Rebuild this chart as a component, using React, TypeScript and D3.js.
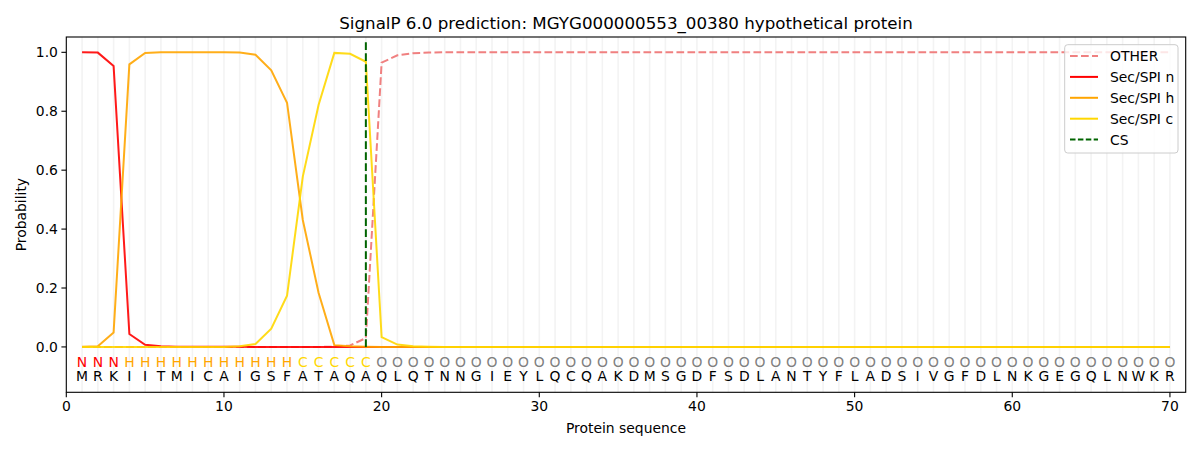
import { useEffect } from "react";
import * as d3 from "d3";

const title = "SignalP 6.0 prediction: MGYG000000553_00380 hypothetical protein";
const sequence = "MRKIITMICAIGSFATAQAQLQTNNGIEYLQCQAKDMSGDFSDLANTYFLADSIVGFDLNKGEGQLNWKR".split("");
const regionLabels = "NNNHHHHHHHHHHHCCCCCOOOOOOOOOOOOOOOOOOOOOOOOOOOOOOOOOOOOOOOOOOOOOOOOOOO".split("");

const otherProb = [
  0, 0, 0, 0, 0, 0, 0, 0, 0, 0,
  0, 0, 0, 0, 0, 0, 0.001, 0.005, 0.03, 0.965,
  0.99, 0.997, 0.999, 1, 1, 1, 1, 1, 1, 1,
  1, 1, 1, 1, 1, 1, 1, 1, 1, 1,
  1, 1, 1, 1, 1, 1, 1, 1, 1, 1,
  1, 1, 1, 1, 1, 1, 1, 1, 1, 1,
  1, 1, 1, 1, 1, 1, 1, 1, 1, 1,
];
const secN = [
  1, 0.999, 0.954, 0.044, 0.007, 0.002, 0.001, 0.001, 0.001, 0.001,
  0.001, 0, 0, 0, 0, 0, 0, 0, 0, 0,
  0, 0, 0, 0, 0, 0, 0, 0, 0, 0,
  0, 0, 0, 0, 0, 0, 0, 0, 0, 0,
  0, 0, 0, 0, 0, 0, 0, 0, 0, 0,
  0, 0, 0, 0, 0, 0, 0, 0, 0, 0,
  0, 0, 0, 0, 0, 0, 0, 0, 0, 0,
];
const secH = [
  0.001, 0.002, 0.049, 0.959, 0.998, 1, 1, 1, 1, 1,
  0.999, 0.992, 0.939, 0.829, 0.431, 0.184, 0.006, 0.002, 0.001, 0,
  0, 0, 0, 0, 0, 0, 0, 0, 0, 0,
  0, 0, 0, 0, 0, 0, 0, 0, 0, 0,
  0, 0, 0, 0, 0, 0, 0, 0, 0, 0,
  0, 0, 0, 0, 0, 0, 0, 0, 0, 0,
  0, 0, 0, 0, 0, 0, 0, 0, 0, 0,
];
const secC = [
  0, 0, 0, 0, 0, 0, 0, 0, 0, 0,
  0.002, 0.01, 0.062, 0.174, 0.578, 0.821, 0.998, 0.995, 0.968, 0.033,
  0.008, 0.002, 0.001, 0, 0, 0, 0, 0, 0, 0,
  0, 0, 0, 0, 0, 0, 0, 0, 0, 0,
  0, 0, 0, 0, 0, 0, 0, 0, 0, 0,
  0, 0, 0, 0, 0, 0, 0, 0, 0, 0,
  0, 0, 0, 0, 0, 0, 0, 0, 0, 0,
];
const cleavageSite = 19;

const xTicks = [0, 10, 20, 30, 40, 50, 60, 70];
const yTicks = [0, 0.2, 0.4, 0.6, 0.8, 1.0];

const series = [
  { name: "OTHER", values: otherProb, color: "#f08080", dash: "7.7,3.3" },
  { name: "Sec/SPI n", values: secN, color: "#ff0000", dash: "" },
  { name: "Sec/SPI h", values: secH, color: "#ffa500", dash: "" },
  { name: "Sec/SPI c", values: secC, color: "#ffd700", dash: "" },
];

const labelColor: Record<string, string> = {
  N: "#ff0000",
  H: "#ffa500",
  C: "#ffd700",
  O: "#808080",
};

const W = 1200;
const H = 450;
const left = 66.3;
const right = 1185.7;
const top = 37;
const bottom = 392.3;
const font = "DejaVu Sans, sans-serif";

export default function App() {
  useEffect(() => {
    document.body.style.margin = "0";
  }, []);

  const x = d3.scaleLinear().domain([0, 71]).range([left, right]);
  const y = d3.scaleLinear().domain([-0.154, 1.052]).range([bottom, top]);
  const positions = d3.range(1, sequence.length + 1);

  const line = (vals: number[]) =>
    d3
      .line<number>()
      .x((_, i) => x(i + 1))
      .y((d) => y(d))(vals) ?? "";

  const legendRows = [
    ...series.map((s) => ({ name: s.name, color: s.color, dash: s.dash })),
    { name: "CS", color: "#006400", dash: "5.5,2.4" },
  ];

  return (
    <svg width={W} height={H} style={{ display: "block", background: "#fff" }} fontFamily={font}>
      <rect x={0} y={0} width={W} height={H} fill="#fff" />
      {/* per-residue grid */}
      {positions.map((p) => (
        <line key={`g${p}`} x1={x(p)} x2={x(p)} y1={top} y2={bottom} stroke="#f3f3f3" strokeWidth={1.6} />
      ))}

      {series.map((s) => (
        <path
          key={s.name}
          d={line(s.values)}
          fill="none"
          stroke={s.color}
          strokeWidth={2}
          strokeOpacity={s.dash ? 1 : 0.9}
          strokeDasharray={s.dash || undefined}
        />
      ))}

      <line
        x1={x(cleavageSite)}
        x2={x(cleavageSite)}
        y1={y(0)}
        y2={y(1.036)}
        stroke="#006400"
        strokeWidth={2}
        strokeDasharray="7.7,3.3"
      />

      {/* residue labels */}
      {positions.map((p, i) => (
        <g key={`l${p}`}>
          <text x={x(p)} y={y(-0.05)} textAnchor="middle" dominantBaseline="central" fontSize={13.9} fill={labelColor[regionLabels[i]]}>
            {regionLabels[i]}
          </text>
          <text x={x(p)} y={y(-0.1)} textAnchor="middle" dominantBaseline="central" fontSize={13.9} fill="#000">
            {sequence[i]}
          </text>
        </g>
      ))}

      {/* axes frame */}
      <rect x={left} y={top} width={right - left} height={bottom - top} fill="none" stroke="#000" strokeWidth={1.1} />

      {xTicks.map((t) => (
        <g key={`xt${t}`}>
          <line x1={x(t)} x2={x(t)} y1={bottom} y2={bottom + 4.9} stroke="#000" strokeWidth={1.1} />
          <text x={x(t)} y={bottom + 19} textAnchor="middle" fontSize={13.9} fill="#000">
            {t}
          </text>
        </g>
      ))}
      {yTicks.map((t) => (
        <g key={`yt${t}`}>
          <line x1={left - 4.9} x2={left} y1={y(t)} y2={y(t)} stroke="#000" strokeWidth={1.1} />
          <text x={left - 8.4} y={y(t)} textAnchor="end" dominantBaseline="central" fontSize={13.9} fill="#000">
            {t.toFixed(1)}
          </text>
        </g>
      ))}

      <text x={(left + right) / 2} y={433} textAnchor="middle" fontSize={13.9} fill="#000">
        Protein sequence
      </text>
      <text
        transform={`translate(${26},${(top + bottom) / 2}) rotate(-90)`}
        textAnchor="middle"
        fontSize={13.9}
        fill="#000"
      >
        Probability
      </text>
      <text x={(left + right) / 2} y={29} textAnchor="middle" fontSize={16.7} fill="#000">
        {title}
      </text>

      {/* legend */}
      <rect x={1064.7} y={44.7} width={113.3} height={108.3} rx={3} fill="#fff" fillOpacity={0.8} stroke="#cccccc" strokeWidth={1} />
      {legendRows.map((r, i) => {
        const ly = 56 + i * 20.9;
        return (
          <g key={r.name}>
            <line x1={1070} x2={1098} y1={ly} y2={ly} stroke={r.color} strokeWidth={2} strokeDasharray={r.dash || undefined} />
            <text x={1110} y={ly} dominantBaseline="central" fontSize={13.9} fill="#000">
              {r.name}
            </text>
          </g>
        );
      })}
    </svg>
  );
}
